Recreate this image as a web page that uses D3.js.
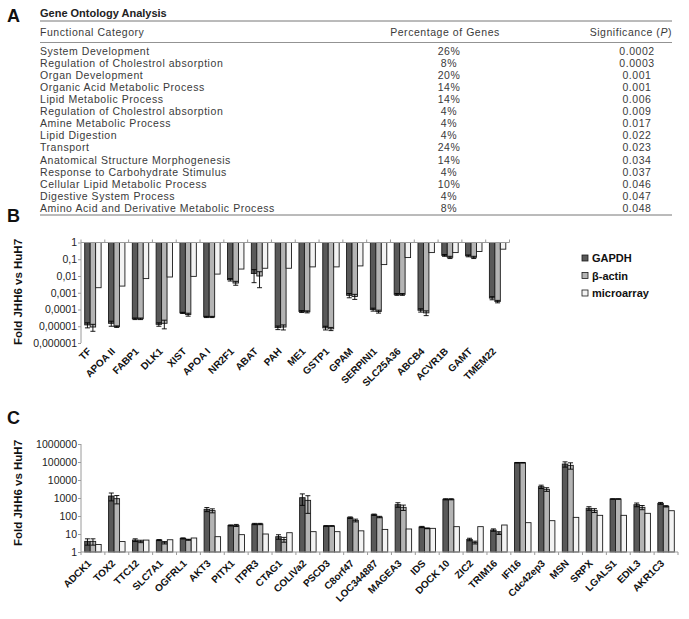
<!DOCTYPE html>
<html><head><meta charset="utf-8">
<script src="https://cdn.jsdelivr.net/npm/d3@7/dist/d3.min.js"></script>
<style>
body{margin:0;background:#fff;}
svg{display:block;}
text{font-family:"Liberation Sans",Arial,sans-serif;}
</style></head>
<body>
<svg id="fig" width="689" height="619"></svg>
<script>
// ---------- Panel A data ----------
const goCategories = ["System Development","Regulation of Cholestrol absorption","Organ Development","Organic Acid Metabolic Process","Lipid Metabolic Process","Regulation of Cholestrol absorption","Amine Metabolic Process","Lipid Digestion","Transport","Anatomical Structure Morphogenesis","Response to Carbohydrate Stimulus","Cellular Lipid Metabolic Process","Digestive System Process","Amino Acid and Derivative Metabolic Process"];
const goPercent = ["26%","8%","20%","14%","14%","4%","4%","4%","24%","14%","4%","10%","4%","8%"];
const goPvalue = ["0.0002","0.0003","0.001","0.001","0.006","0.009","0.017","0.022","0.023","0.034","0.037","0.046","0.047","0.048"];

// ---------- Panel B data ----------
const catsB = ["TF","APOA II","FABP1","DLK1","XIST","APOA I","NR2F1","ABAT","PAH","ME1","GSTP1","GPAM","SERPINI1","SLC25A36","ABCB4","ACVR1B","GAMT","TMEM22"];
const gapdhB = [1.2e-5,1.5e-5,2.8e-5,1.3e-5,6.3e-5,3.6e-5,0.006,0.014,8.3e-6,7.6e-5,8e-6,0.0007,1e-4,0.0008,9e-5,0.17,0.16,0.00048];
const actinB = [0.9e-5,0.95e-5,2.8e-5,1.5e-5,5e-5,3.6e-5,0.0038,0.01,9e-6,7.3e-5,7e-6,0.0006,7.6e-5,0.0008,6.3e-5,0.13,0.13,0.0003];
const microB = [0.002,0.0025,0.007,0.0087,0.0095,0.013,0.026,0.029,0.029,0.035,0.035,0.04,0.048,0.126,0.25,0.25,0.29,0.4];
const gapdhErrB = [0.4e-5,0.5e-5,0.3e-5,0.3e-5,0.5e-5,0.3e-5,0.001,0.01,0.2e-5,1e-5,0.2e-5,0.0002,0.2e-4,0.0001,0.2e-4,0.02,0.02,0.0001];
const actinErrB = [0.4e-5,0.1e-5,0.3e-5,0.8e-5,1e-5,0.3e-5,0.001,0.008,0.3e-5,1e-5,0.15e-5,0.0002,0.15e-4,0.0001,0.2e-4,0.02,0.02,0.00005];
const ticksB = [1,0.1,0.01,0.001,0.0001,0.00001,0.000001];
const tickLabelsB = ["1","0,1","0,01","0,001","0,0001","0,00001","0,000001"];

// ---------- Panel C data ----------
const catsC = ["ADCK1","TOX2","TTC12","SLC7A1","OGFRL1","AKT3","PITX1","ITPR3","CTAG1","COLIVa2","PSCD3","C8orf47","LOC344887","MAGEA3","IDS","DOCK 10","ZIC2","TRIM16","IFI16","Cdc42ep3","MSN","SRPX","LGALS1","EDIL3","AKR1C3"];
const gapdhC = [3.9,1290,4.6,4.6,5.7,235,30,36,7.1,1040,28,81,118,426,24.5,850,5.0,16.7,91000,4260,77000,267,880,426,506];
const actinC = [3.9,920,3.9,3.3,4.8,200,30,36,5.0,740,28,57,88,303,20.6,850,3.4,11.4,91000,3030,65000,206,880,303,345];
const microC = [2.6,3.8,4.6,4.8,6.0,7.1,9.2,10,11.8,13.5,13.5,15,18,19,20.6,25.6,25.6,31.6,42.6,55,84,109,109,141,197];
const gapdhErrC = [1.5,600,0.8,0.3,0.4,60,2,3,2,650,1,8,10,120,2,60,0.8,2.5,3000,900,25000,60,20,100,60];
const actinErrC = [1.5,450,0.6,0.5,0.3,50,4,3,1.5,600,1,10,8,100,1,60,0.6,2,3000,700,25000,50,20,80,30];
const ticksC = [1,10,100,1000,10000,100000,1000000];
const tickLabelsC = ["1","10","100","1000","10000","100000","1000000"];

const seriesNames = ["GAPDH","\u03b2-actin","microarray"];
const seriesFill = ["#595959","#b4b4b4","#f3f3f3"];
const barStroke = "#1a1a1a";
const axisColor = "#9a9a9a";

const svg = d3.select("#fig");

// ---------- Panel A ----------
const gA = svg.append("g");
gA.append("text").attr("x",7).attr("y",22).attr("font-size",18).attr("font-weight","bold").attr("fill","#111").text("A");
gA.append("text").attr("x",40).attr("y",17).attr("font-size",11).attr("font-weight","bold").attr("fill","#222").text("Gene Ontology Analysis");
const tableLeft = 40, tableRight = 672, pctX = 449, sigX = 637;
[21,42.5,215].forEach(y=>gA.append("line").attr("x1",tableLeft).attr("x2",tableRight).attr("y1",y).attr("y2",y).attr("stroke","#777").attr("stroke-width",y===42.5?0.8:1));
const hdr = gA.append("g").attr("font-size",10.5).attr("letter-spacing",0.55).attr("fill","#3a3a3a");
hdr.append("text").attr("x",tableLeft).attr("y",35.5).text("Functional Category");
hdr.append("text").attr("x",pctX-4).attr("y",35.5).attr("text-anchor","middle").text("Percentage of Genes");
const sigH = hdr.append("text").attr("x",tableRight).attr("y",35.5).attr("text-anchor","end");
sigH.append("tspan").text("Significance (");
sigH.append("tspan").attr("font-style","italic").text("P");
sigH.append("tspan").text(")");
const rowY = d3.scalePoint().domain(d3.range(goCategories.length)).range([54.5,212]);
const rows = gA.append("g").attr("font-size",10.5).attr("letter-spacing",0.55).attr("fill","#3a3a3a");
goCategories.forEach((c,i)=>{
  rows.append("text").attr("x",tableLeft).attr("y",rowY(i)).text(c);
  rows.append("text").attr("x",pctX).attr("y",rowY(i)).attr("text-anchor","middle").text(goPercent[i]);
  rows.append("text").attr("x",sigX).attr("y",rowY(i)).attr("text-anchor","middle").text(goPvalue[i]);
});

// ---------- helper to draw grouped log bars ----------
function drawPanel(cfg){
  const g = svg.append("g");
  const x = d3.scaleBand().domain(cfg.cats).range(cfg.xRange).padding(0);
  const sub = d3.scaleBand().domain([0,1,2]).range([3.7, x.bandwidth()-3.7]).padding(0);
  const y = d3.scaleLog().domain(cfg.yDomain).range(cfg.yRange);
  const base = y(cfg.baseValue);
  const series = [cfg.s0, cfg.s1, cfg.s2];
  const errs = [cfg.e0, cfg.e1, null];
  series.forEach((vals,si)=>{
    g.append("g").selectAll("rect").data(vals).join("rect")
      .attr("x",(d,i)=>x(cfg.cats[i])+sub(si))
      .attr("width",sub.bandwidth())
      .attr("y",d=>Math.min(base,y(d)))
      .attr("height",d=>Math.abs(y(d)-base))
      .attr("fill",seriesFill[si]).attr("stroke",barStroke).attr("stroke-width",0.9);
  });
  errs.forEach((ev,si)=>{
    if(!ev) return;
    const vals = series[si];
    const eg = g.append("g").attr("stroke","#000").attr("stroke-width",0.9);
    vals.forEach((v,i)=>{
      const cx = x(cfg.cats[i])+sub(si)+sub.bandwidth()/2;
      const lo = Math.max(v-ev[i], cfg.yDomain[0]*1.0001);
      const y1 = y(lo), y2 = y(v+ev[i]);
      eg.append("line").attr("x1",cx).attr("x2",cx).attr("y1",y1).attr("y2",y2);
      eg.append("line").attr("x1",cx-2.5).attr("x2",cx+2.5).attr("y1",y1).attr("y2",y1);
      eg.append("line").attr("x1",cx-2.5).attr("x2",cx+2.5).attr("y1",y2).attr("y2",y2);
    });
  });
  const ax = g.append("g").attr("stroke",axisColor).attr("stroke-width",1);
  ax.append("line").attr("x1",cfg.xRange[0]).attr("x2",cfg.xRange[1]).attr("y1",base).attr("y2",base);
  cfg.cats.concat([null]).forEach((c,i)=>{
    const xx = c===null ? cfg.xRange[1] : x(c);
    ax.append("line").attr("x1",xx).attr("x2",xx).attr("y1",base).attr("y2",base+cfg.tickDir*3);
  });
  const yAxis = d3.axisLeft(y).tickValues(cfg.ticks).tickFormat((d,i)=>cfg.tickLabels[i]).tickSize(3).tickPadding(1);
  const ya = g.append("g").attr("transform",`translate(${cfg.xRange[0]},0)`).call(yAxis);
  ya.select(".domain").attr("stroke",axisColor).attr("d",`M0,${cfg.yRange[0]}V${cfg.yRange[1]}`);
  ya.selectAll(".tick line").attr("stroke",axisColor);
  ya.selectAll(".tick text").attr("font-size",10.5).attr("fill","#222").attr("font-family","Liberation Sans, Arial, sans-serif");
  g.append("text").attr("transform",`translate(${cfg.yLabelX},${cfg.yLabelY}) rotate(-90)`)
    .attr("text-anchor","middle").attr("font-size",11.5).attr("font-weight","bold").attr("fill","#111")
    .text("Fold JHH6 vs HuH7");
  g.append("g").selectAll("text").data(cfg.cats).join("text")
    .attr("transform",d=>`translate(${x(d)+x.bandwidth()/2-1},${cfg.labelY}) rotate(-45)`)
    .attr("text-anchor","end").attr("font-size",10).attr("font-weight","bold").attr("fill","#111")
    .text(d=>d);
  g.append("text").attr("x",7).attr("y",cfg.letterY).attr("font-size",18).attr("font-weight","bold").attr("fill","#111").text(cfg.letter);
}

drawPanel({cats:catsB, xRange:[81,509.5], yDomain:[1e-6,1], yRange:[343,242.5], baseValue:1,
  s0:gapdhB, s1:actinB, s2:microB, e0:gapdhErrB, e1:actinErrB, ticks:ticksB, tickLabels:tickLabelsB,
  tickDir:-1, yLabelX:22, yLabelY:292, labelY:352, letter:"B", letterY:222});

drawPanel({cats:catsC, xRange:[81,678], yDomain:[1,1e6], yRange:[552,444], baseValue:1,
  s0:gapdhC, s1:actinC, s2:microC, e0:gapdhErrC, e1:actinErrC, ticks:ticksC, tickLabels:tickLabelsC,
  tickDir:1, yLabelX:22, yLabelY:493, labelY:564, letter:"C", letterY:424});

// ---------- Legend ----------
const leg = svg.append("g");
const legY = d3.scalePoint().domain(seriesNames).range([258,293]);
seriesNames.forEach((n,i)=>{
  leg.append("rect").attr("x",582).attr("y",legY(n)-3).attr("width",6).attr("height",6)
    .attr("fill",seriesFill[i]).attr("stroke",barStroke).attr("stroke-width",0.8);
  leg.append("text").attr("x",592).attr("y",legY(n)+4).attr("font-size",11).attr("font-weight","bold").attr("fill","#111").text(n);
});
</script>
</body></html>
